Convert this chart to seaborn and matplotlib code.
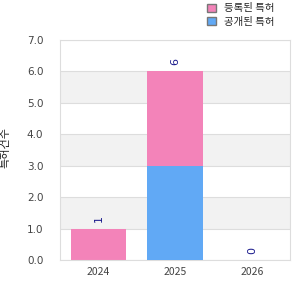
import matplotlib
matplotlib.use("Agg")
import matplotlib.pyplot as plt
import seaborn as sns
import pandas as pd
import numpy as np
from matplotlib.patches import Patch

years = ["2024", "2025", "2026"]
series_blue = [0, 3, 0]
series_pink = [1, 3, 0]
labels = ["등록된 특허", "공개된 특허"]  # pink, blue
ylabel = "특허건수"
yticks = [0, 1, 2, 3, 4, 5, 6, 7]

sns.set_theme(style="white")
plt.rcParams['font.family'] = ['Noto Sans CJK KR', 'DejaVu Sans']

pink = "#f383b9"
blue = "#61a9f5"

fig = plt.figure(figsize=(3, 3), dpi=100)
ax = fig.add_axes([0.2, 0.133, 0.767, 0.734])

for i in range(7):
    if i % 2 == 1:
        ax.axhspan(i, i + 1, color="#f2f2f2", zorder=0, lw=0)
for t in yticks:
    ax.axhline(t, color="#dddddd", lw=0.8, zorder=0.5)

df = pd.DataFrame({"year": years, "blue": series_blue, "pink": series_pink})
df["total"] = df["blue"] + df["pink"]
sns.barplot(data=df, x="year", y="total", color=pink, width=0.72, ax=ax, zorder=2,
            saturation=1, linewidth=0)
sns.barplot(data=df, x="year", y="blue", color=blue, width=0.72, ax=ax, zorder=3,
            saturation=1, linewidth=0)

for i, tot in enumerate(df["total"]):
    ax.text(i, tot + 0.2, str(tot), rotation=90, ha="center", va="bottom",
            color="#1a1a8c", fontsize=8, family=['DejaVu Sans'])

ax.set_ylim(0, 7)
ax.set_xlim(-0.5, 2.5)
ax.set_yticks(yticks)
ax.set_yticklabels([f"{t:.1f}" for t in yticks], family=['DejaVu Sans'])
ax.tick_params(axis="both", labelsize=7.5, colors="#444444", length=0, pad=12)
ax.tick_params(axis="x", pad=5)
ax.set_xlabel("")
ax.set_ylabel("")
for s in ax.spines.values():
    s.set_color("#dddddd")
    s.set_linewidth(0.8)

fig.text(0.017, 0.507, ylabel, rotation=90, ha="center", va="center", fontsize=8, color="#222222")

handles = [Patch(facecolor=pink, edgecolor="#777777", label=labels[0]),
           Patch(facecolor=blue, edgecolor="#777777", label=labels[1])]
fig.legend(handles=handles, loc="upper left", bbox_to_anchor=(0.66, 1.02), frameon=False,
           fontsize=7.5, handlelength=0.8, handleheight=0.8, labelspacing=0.35, handletextpad=0.8)

fig.savefig("out.png", dpi=100)
